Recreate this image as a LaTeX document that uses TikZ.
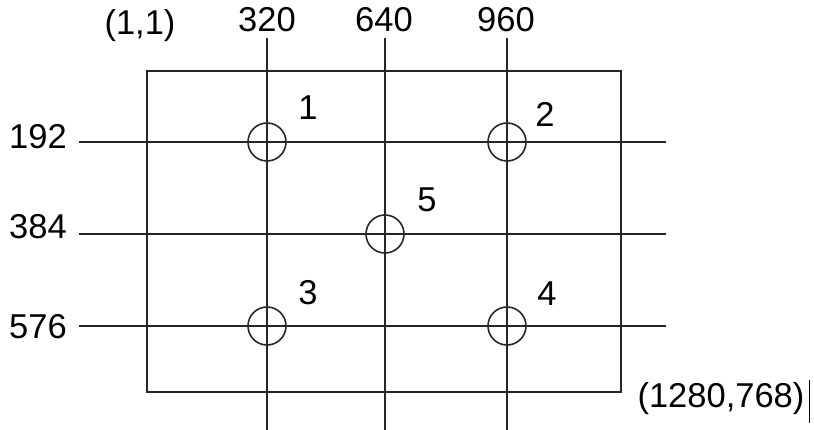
\documentclass[tikz,border=0pt]{standalone}
\usepackage{fontspec}
\setmainfont{Liberation Sans}
\begin{document}
\begin{tikzpicture}[x=1pt,y=-1pt,
  gridline/.style={line width=1.6pt,black!85},
  hole/.style={circle,draw,line width=1.6pt,black!85,minimum size=38pt,inner sep=0pt},
  lbl/.style={inner sep=0pt,anchor=base,font=\fontsize{34.5}{40}\selectfont},
  rlbl/.style={lbl,anchor=base east}]
\useasboundingbox (0,0) rectangle (814,430);
% frame
\coordinate (tl) at (147,71);
\coordinate (br) at (621,392);
\draw[gridline] (tl) rectangle (br);
% vertical lines
\foreach \n/\x in {a/267,b/385,c/507}{
  \coordinate (v\n top) at (\x,38);
  \coordinate (v\n bot) at (\x,430);
  \draw[gridline] (v\n top) -- (v\n bot);
}
% horizontal lines
\foreach \n/\y in {a/142,b/234,c/326}{
  \coordinate (h\n left) at (79,\y);
  \coordinate (h\n right) at (666,\y);
  \draw[gridline] (h\n left) -- (h\n right);
}
% circles
\node[hole] (c1) at (267,142) {};
\node[hole] (c2) at (507,142) {};
\node[hole] (c5) at (385,234) {};
\node[hole] (c3) at (267,326) {};
\node[hole] (c4) at (507,326) {};
% numbers
\node[lbl] (n1) at (308,120) {1};
\node[lbl] (n2) at (545,127) {2};
\node[lbl] (n5) at (427,212) {5};
\node[lbl] (n3) at (308,305) {3};
\node[lbl] (n4) at (547,306) {4};
% axis labels
\node[lbl] (o11) at (140,35) {(1,1)};
\node[lbl] (x320) at (267,32) {320};
\node[lbl] (x640) at (384,32) {640};
\node[lbl] (x960) at (506,32) {960};
\node[rlbl] (y192) at (67,149) {192};
\node[rlbl] (y384) at (67,239) {384};
\node[rlbl] (y576) at (67,338) {576};
\node[lbl] (end) at (721,407) {(1280,768)};
\coordinate (curtop) at (809,380);
\coordinate (curbot) at (809,423);
\draw[line width=1pt] (curtop) -- (curbot);
\end{tikzpicture}
\end{document}
